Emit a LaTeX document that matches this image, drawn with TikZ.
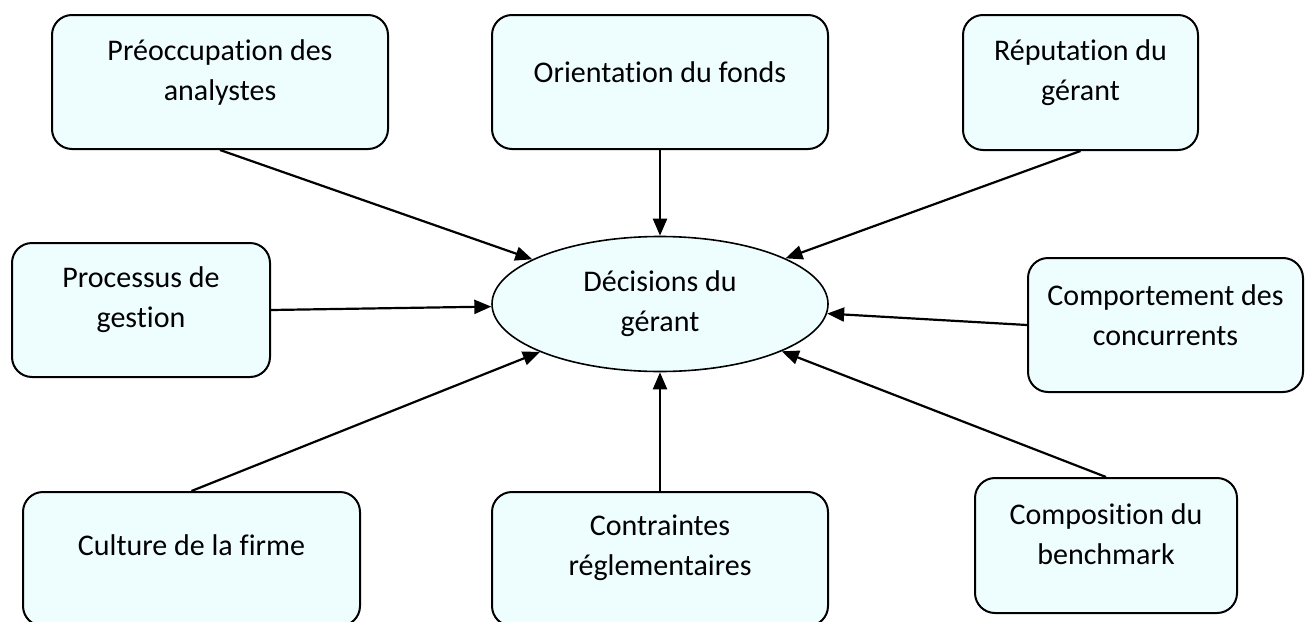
\documentclass[tikz,border=0pt]{standalone}
\usepackage{fontspec}
\setmainfont{Carlito}[Ligatures={NoCommon}]
\usetikzlibrary{arrows.meta,shapes.geometric}
\definecolor{cyanpale}{RGB}{238,254,255}
\tikzset{
  boite/.style={draw, line width=2pt, fill=cyanpale, rounded corners=20pt, inner sep=0pt},
  decision/.style={ellipse, draw, line width=1.6pt, fill=cyanpale, inner sep=0pt, align=center,
    font=\fontsize{30}{40}\selectfont},
  texte/.style={align=center, inner sep=0pt, font=\fontsize{30}{40}\selectfont},
  fleche/.style={line width=2.2pt, ->}
}
\begin{document}
\begin{tikzpicture}[x=1pt, y=-1pt, line join=round, >={Triangle[length=17pt,width=14pt]}]
\useasboundingbox (0,0) rectangle (1305,621);
% les cadres
\node[boite, minimum width=336pt, minimum height=134pt] (analystes) at (220,82) {};
\node[boite, minimum width=336pt, minimum height=134pt] (fonds) at (660,82) {};
\node[boite, minimum width=235pt, minimum height=135pt] (reputation) at (1080.5,82.5) {};
\node[boite, minimum width=258pt, minimum height=134pt] (processus) at (141,310) {};
\node[boite, minimum width=275pt, minimum height=134pt] (concurrents) at (1165.5,325) {};
\node[boite, minimum width=337pt, minimum height=134pt] (culture) at (191.5,559) {};
\node[boite, minimum width=336pt, minimum height=134pt] (contraintes) at (660,559) {};
\node[boite, minimum width=262pt, minimum height=135pt] (benchmark) at (1106,545.5) {};
\node[decision, minimum width=336pt, minimum height=135pt] (gerant) at (660,304) {Décisions du\\gérant};
% les textes
\node[texte] (analystesT) at (220,72.5) {Préoccupation des\\analystes};
\node[texte] (fondsT) at (660,72) {Orientation du fonds};
\node[texte] (reputationT) at (1080.5,72.5) {Réputation du\\gérant};
\node[texte] (processusT) at (141,300) {Processus de\\gestion};
\node[texte] (concurrentsT) at (1165.5,315) {Comportement des\\concurrents};
\node[texte] (cultureT) at (191.5,545) {Culture de la firme};
\node[texte] (contraintesT) at (660,547.5) {Contraintes\\réglementaires};
\node[texte] (benchmarkT) at (1106,534) {Composition du\\benchmark};
% les fleches
\draw[fleche] (analystes.south) -- (gerant);
\draw[fleche] (fonds.south) -- (gerant);
\draw[fleche] (reputation.south) -- (gerant);
\draw[fleche] (processus.east) -- (gerant);
\draw[fleche] (concurrents.west) -- (gerant);
\draw[fleche] (culture.north) -- (gerant);
\draw[fleche] (contraintes.north) -- (gerant);
\draw[fleche] (benchmark.north) -- (gerant);
\end{tikzpicture}
\end{document}
